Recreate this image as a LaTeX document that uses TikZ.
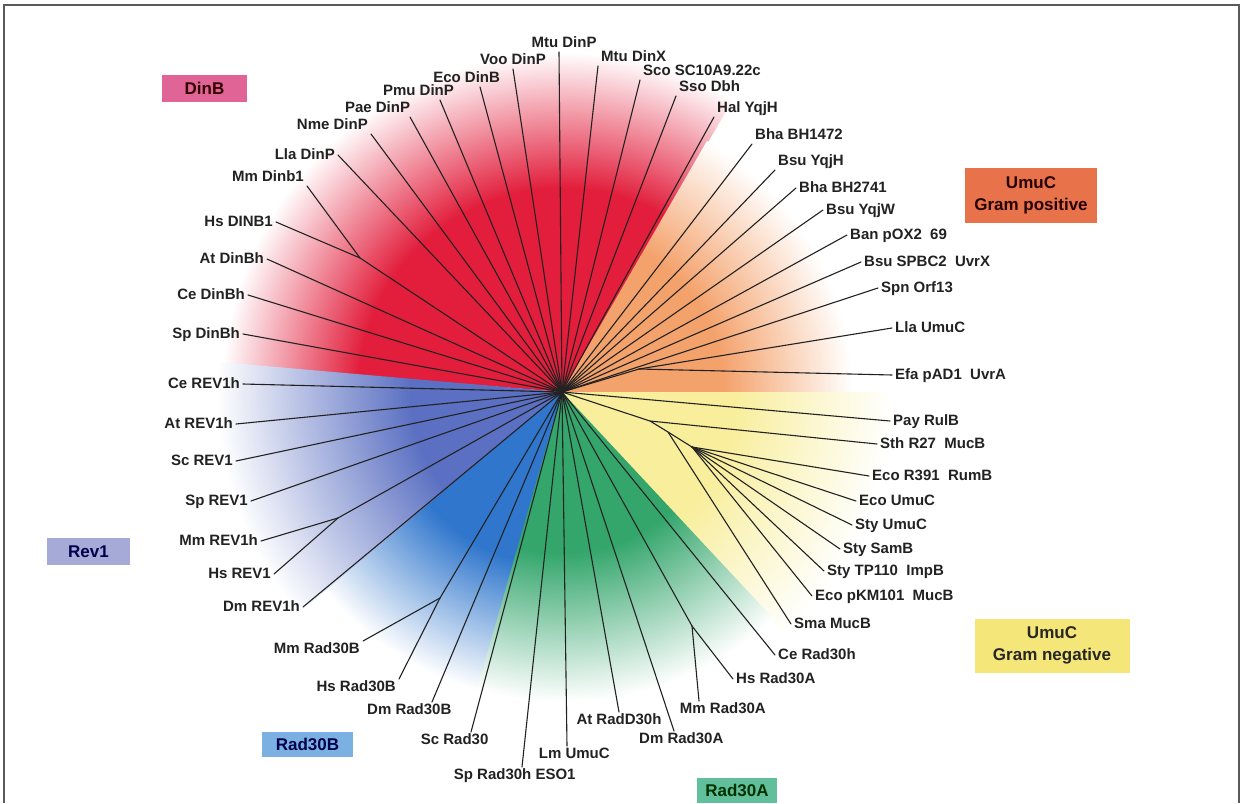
\documentclass[tikz,border=0pt]{standalone}
\usepackage{fontspec}
\setmainfont{Liberation Sans}
\usepackage{xcolor}
\usepackage{tikz}
\definecolor{dinbred}{HTML}{E21E3C}
\definecolor{gposorange}{HTML}{F4A26C}
\definecolor{gnegyellow}{HTML}{F8EE9C}
\definecolor{rad30agreen}{HTML}{34A66C}
\definecolor{rad30bblue}{HTML}{2F76CC}
\definecolor{rev1blue}{HTML}{5B70C2}
\definecolor{dinbtag}{HTML}{E16496}
\definecolor{gpostag}{HTML}{E8734B}
\definecolor{gnegtag}{HTML}{F5E67A}
\definecolor{rev1tag}{HTML}{A5AAD7}
\definecolor{rad30btag}{HTML}{7AB0E2}
\definecolor{rad30atag}{HTML}{62BF9C}
\definecolor{linegray}{HTML}{222222}
\definecolor{framegray}{HTML}{5A5A5A}
\pgfdeclareradialshading{fandinb}{\pgfpoint{0bp}{0bp}}{color(0bp)=(dinbred); color(15bp)=(dinbred); color(25bp)=(white); color(50bp)=(white)}
\pgfdeclareradialshading{fangpos}{\pgfpoint{0bp}{0bp}}{color(0bp)=(gposorange); color(14bp)=(gposorange); color(25bp)=(white); color(50bp)=(white)}
\pgfdeclareradialshading{fangneg}{\pgfpoint{0bp}{0bp}}{color(0bp)=(gnegyellow); color(13bp)=(gnegyellow); color(25bp)=(white); color(50bp)=(white)}
\pgfdeclareradialshading{fanrad30a}{\pgfpoint{0bp}{0bp}}{color(0bp)=(rad30agreen); color(13bp)=(rad30agreen); color(25bp)=(white); color(50bp)=(white)}
\pgfdeclareradialshading{fanrad30b}{\pgfpoint{0bp}{0bp}}{color(0bp)=(rad30bblue); color(14bp)=(rad30bblue); color(25bp)=(white); color(50bp)=(white)}
\pgfdeclareradialshading{fanrev1}{\pgfpoint{0bp}{0bp}}{color(0bp)=(rev1blue); color(11bp)=(rev1blue); color(25bp)=(white); color(50bp)=(white)}
\tikzset{
  branch/.style={draw=linegray, line width=1.1pt, line cap=round, line join=round},
  leaf/.style={font=\bfseries\fontsize{15}{17}\selectfont, text=linegray, inner xsep=3pt, inner ysep=1.5pt, text height=11pt, text depth=3pt},
  tag/.style={font=\bfseries\fontsize{17}{22}\selectfont, align=center, inner sep=0pt},
  frame/.style={draw=framegray, line width=2pt},
}

\begin{document}
\begin{tikzpicture}[x=1pt, y=-1pt]
  \useasboundingbox (0,0) rectangle (1244,803);
  \fill[white] (0,0) rectangle (1244,803);
  \draw[frame] (4,803) -- (4,5) -- (1239,5) -- (1239,803);
  \coordinate (c) at (562,392);
  \begin{scope}
    \clip (c) -- ++(184.7:340) arc[start angle=184.7, end angle=300.3, radius=340] -- cycle;
    \shade[shading=fandinb] (c) circle (340);
  \end{scope}
  \begin{scope}
    \clip (c) -- ++(300:290) arc[start angle=300, end angle=360.3, radius=290] -- cycle;
    \shade[shading=fangpos] (c) circle (290);
  \end{scope}
  \begin{scope}
    \clip (c) -- ++(0:330) arc[start angle=0, end angle=47.3, radius=330] -- cycle;
    \shade[shading=fangneg] (c) circle (330);
  \end{scope}
  \begin{scope}
    \clip (c) -- ++(47:310) arc[start angle=47, end angle=106.3, radius=310] -- cycle;
    \shade[shading=fanrad30a] (c) circle (310);
  \end{scope}
  \begin{scope}
    \clip (c) -- ++(106:310) arc[start angle=106, end angle=140.3, radius=310] -- cycle;
    \shade[shading=fanrad30b] (c) circle (310);
  \end{scope}
  \begin{scope}
    \clip (c) -- ++(140:345) arc[start angle=140, end angle=185, radius=345] -- cycle;
    \shade[shading=fanrev1] (c) circle (345);
  \end{scope}

  \node[tag, fill=dinbtag, text=black!80!red, minimum width=85pt, minimum height=27pt] (dinb) at (204.5,88.5) {DinB};
  \node[tag, fill=gpostag, text=black!85!red, minimum width=132pt, minimum height=55pt] (gpos) at (1031,195.5) {UmuC\\Gram positive};
  \node[tag, fill=gnegtag, text=black!85, minimum width=155pt, minimum height=54pt] (gneg) at (1052,645.5) {UmuC\\Gram negative};
  \node[tag, fill=rev1tag, text=black!70!blue, minimum width=83pt, minimum height=27pt] (rev1) at (88.5,551.5) {Rev1};
  \node[tag, fill=rad30btag, text=black!70!blue, minimum width=91pt, minimum height=25pt] (rad30b) at (307.5,744.5) {Rad30B};
  \node[tag, fill=rad30atag, text=black!80!green, minimum width=80pt, minimum height=25pt] (rad30a) at (737,790.5) {Rad30A};

  \coordinate (dinbn) at (360,258);
  \coordinate (rev1n) at (338,518);
  \coordinate (rad30bn) at (440,598);
  \coordinate (rad30an) at (692,626);
  \coordinate (gposn) at (639,369);
  \coordinate (gnega) at (650,421);
  \coordinate (gnegb) at (668,432);
  \coordinate (gnegc) at (692,447);
  \draw[branch] (c) -- (dinbn); \draw[branch] (c) -- (rev1n); \draw[branch] (c) -- (rad30bn);
  \draw[branch] (c) -- (rad30an); \draw[branch] (c) -- (gposn);
  \draw[branch] (c) -- (gnega) -- (gnegb) -- (gnegc);

  \node[leaf, anchor=south east] (mmdinb1) at (307,186) {Mm Dinb1}; \draw[branch] (dinbn) -- (mmdinb1.south east);
  \node[leaf, anchor=east] (hsdinb1) at (276,222) {Hs DINB1}; \draw[branch] (dinbn) -- (hsdinb1.east);
  \node[leaf, anchor=east] (atdinbh) at (267,259) {At DinBh}; \draw[branch] (c) -- (atdinbh.east);
  \node[leaf, anchor=east] (cedinbh) at (248,295) {Ce DinBh}; \draw[branch] (c) -- (cedinbh.east);
  \node[leaf, anchor=east] (spdinbh) at (243,334) {Sp DinBh}; \draw[branch] (c) -- (spdinbh.east);
  \node[leaf, anchor=east] (lladinp) at (338,155) {Lla DinP}; \draw[branch] (c) -- (lladinp.east);
  \node[leaf, anchor=south east] (nmedinp) at (371,134) {Nme DinP}; \draw[branch] (c) -- (nmedinp.south east);
  \node[leaf, anchor=345] (paedinp) at (410,117) {Pae DinP}; \draw[branch] (c) -- (paedinp.345);
  \node[leaf, anchor=338] (pmudinp) at (440,100) {Pmu DinP}; \draw[branch] (c) -- (pmudinp.338);
  \node[leaf, anchor=327] (ecodinb) at (480,87) {Eco DinB}; \draw[branch] (c) -- (ecodinb.327);
  \node[leaf, anchor=south] (voodinp) at (513,69) {Voo DinP}; \draw[branch] (c) -- (voodinp.south);
  \node[leaf, anchor=240] (mtudinp) at (559,52) {Mtu DinP}; \draw[branch] (c) -- (mtudinp.240);
  \node[leaf, anchor=south west] (mtudinx) at (598,66) {Mtu DinX}; \draw[branch] (c) -- (mtudinx.south west);
  \node[leaf, anchor=south west] (scosc) at (640,80) {Sco SC10A9.22c}; \draw[branch] (c) -- (scosc.south west);
  \node[leaf, anchor=south west] (ssodbh) at (676,96) {Sso Dbh}; \draw[branch] (c) -- (ssodbh.south west);

  \node[leaf, anchor=south west] (halyqjh) at (714,117) {Hal YqjH}; \draw[branch] (c) -- (halyqjh.south west);
  \node[leaf, anchor=south west] (bhabha) at (752,144) {Bha BH1472}; \draw[branch] (c) -- (bhabha.south west);
  \node[leaf, anchor=south west] (bsuyqjh) at (775,170) {Bsu YqjH}; \draw[branch] (c) -- (bsuyqjh.south west);
  \node[leaf, anchor=west] (bhabhb) at (796,188) {Bha BH2741}; \draw[branch] (c) -- (bhabhb.west);
  \node[leaf, anchor=west] (bsuyqjw) at (823,210) {Bsu YqjW}; \draw[branch] (c) -- (bsuyqjw.west);
  \node[leaf, anchor=west] (banpox) at (847,235) {Ban pOX2~ 69}; \draw[branch] (c) -- (banpox.west);
  \node[leaf, anchor=west] (bsuspbc) at (861,262) {Bsu SPBC2~ UvrX}; \draw[branch] (c) -- (bsuspbc.west);
  \node[leaf, anchor=west] (spnorf) at (878,288) {Spn Orf13}; \draw[branch] (c) -- (spnorf.west);
  \node[leaf, anchor=west] (llaumuc) at (892,328) {Lla UmuC}; \draw[branch] (gposn) -- (llaumuc.west);
  \node[leaf, anchor=west] (efapad) at (892,375) {Efa pAD1~ UvrA}; \draw[branch] (gposn) -- (efapad.west);

  \node[leaf, anchor=west] (payrulb) at (890,421) {Pay RulB}; \draw[branch] (c) -- (payrulb.west);
  \node[leaf, anchor=west] (sthr27) at (877,444) {Sth R27~ MucB}; \draw[branch] (gnega) -- (sthr27.west);
  \node[leaf, anchor=west] (ecor391) at (869,476) {Eco R391~ RumB}; \draw[branch] (gnegc) -- (ecor391.west);
  \node[leaf, anchor=west] (ecoumuc) at (856,501) {Eco UmuC}; \draw[branch] (gnegc) -- (ecoumuc.west);
  \node[leaf, anchor=west] (styumuc) at (852,525) {Sty UmuC}; \draw[branch] (gnegc) -- (styumuc.west);
  \node[leaf, anchor=west] (stysamb) at (840,549) {Sty SamB}; \draw[branch] (gnegc) -- (stysamb.west);
  \node[leaf, anchor=west] (stytp) at (824,571) {Sty TP110~ ImpB}; \draw[branch] (gnegc) -- (stytp.west);
  \node[leaf, anchor=west] (ecopkm) at (812,596) {Eco pKM101~ MucB}; \draw[branch] (gnegc) -- (ecopkm.west);
  \node[leaf, anchor=west] (smamucb) at (791,624) {Sma MucB}; \draw[branch] (gnegb) -- (smamucb.west);

  \node[leaf, anchor=west] (cerad30h) at (775,655) {Ce Rad30h}; \draw[branch] (c) -- (cerad30h.west);
  \node[leaf, anchor=west] (hsrad30a) at (733,679) {Hs Rad30A}; \draw[branch] (rad30an) -- (hsrad30a.west);
  \node[leaf, anchor=160] (mmrad30a) at (699,701) {Mm Rad30A}; \draw[branch] (rad30an) -- (mmrad30a.160);
  \node[leaf, anchor=130] (dmrad30a) at (674,731) {Dm Rad30A}; \draw[branch] (c) -- (dmrad30a.130);
  \node[leaf, anchor=north] (atradd30h) at (619,712) {At RadD30h}; \draw[branch] (c) -- (atradd30h.north);
  \node[leaf, anchor=130] (lmumuc) at (567,746) {Lm UmuC}; \draw[branch] (c) -- (lmumuc.130);
  \node[leaf, anchor=50] (sprad30h) at (522,767) {Sp Rad30h ESO1}; \draw[branch] (c) -- (sprad30h.50);
  \node[leaf, anchor=28] (scrad30) at (471,732) {Sc Rad30}; \draw[branch] (c) -- (scrad30.28);
  \node[leaf, anchor=21] (dmrad30b) at (432,702) {Dm Rad30B}; \draw[branch] (c) -- (dmrad30b.21);
  \node[leaf, anchor=north east] (hsrad30b) at (399,679) {Hs Rad30B}; \draw[branch] (rad30bn) -- (hsrad30b.north east);
  \node[leaf, anchor=north east] (mmrad30b) at (363,641) {Mm Rad30B}; \draw[branch] (rad30bn) -- (mmrad30b.north east);

  \node[leaf, anchor=east] (dmrev1h) at (303,607) {Dm REV1h}; \draw[branch] (c) -- (dmrev1h.east);
  \node[leaf, anchor=east] (hsrev1) at (274,574) {Hs REV1}; \draw[branch] (rev1n) -- (hsrev1.east);
  \node[leaf, anchor=east] (mmrev1h) at (261,541) {Mm REV1h}; \draw[branch] (rev1n) -- (mmrev1h.east);
  \node[leaf, anchor=east] (sprev1) at (251,501) {Sp REV1}; \draw[branch] (c) -- (sprev1.east);
  \node[leaf, anchor=east] (screv1) at (236,461) {Sc REV1}; \draw[branch] (c) -- (screv1.east);
  \node[leaf, anchor=east] (atrev1h) at (236,424) {At REV1h}; \draw[branch] (c) -- (atrev1h.east);
  \node[leaf, anchor=east] (cerev1h) at (243,384) {Ce REV1h}; \draw[branch] (c) -- (cerev1h.east);
\end{tikzpicture}
\end{document}
